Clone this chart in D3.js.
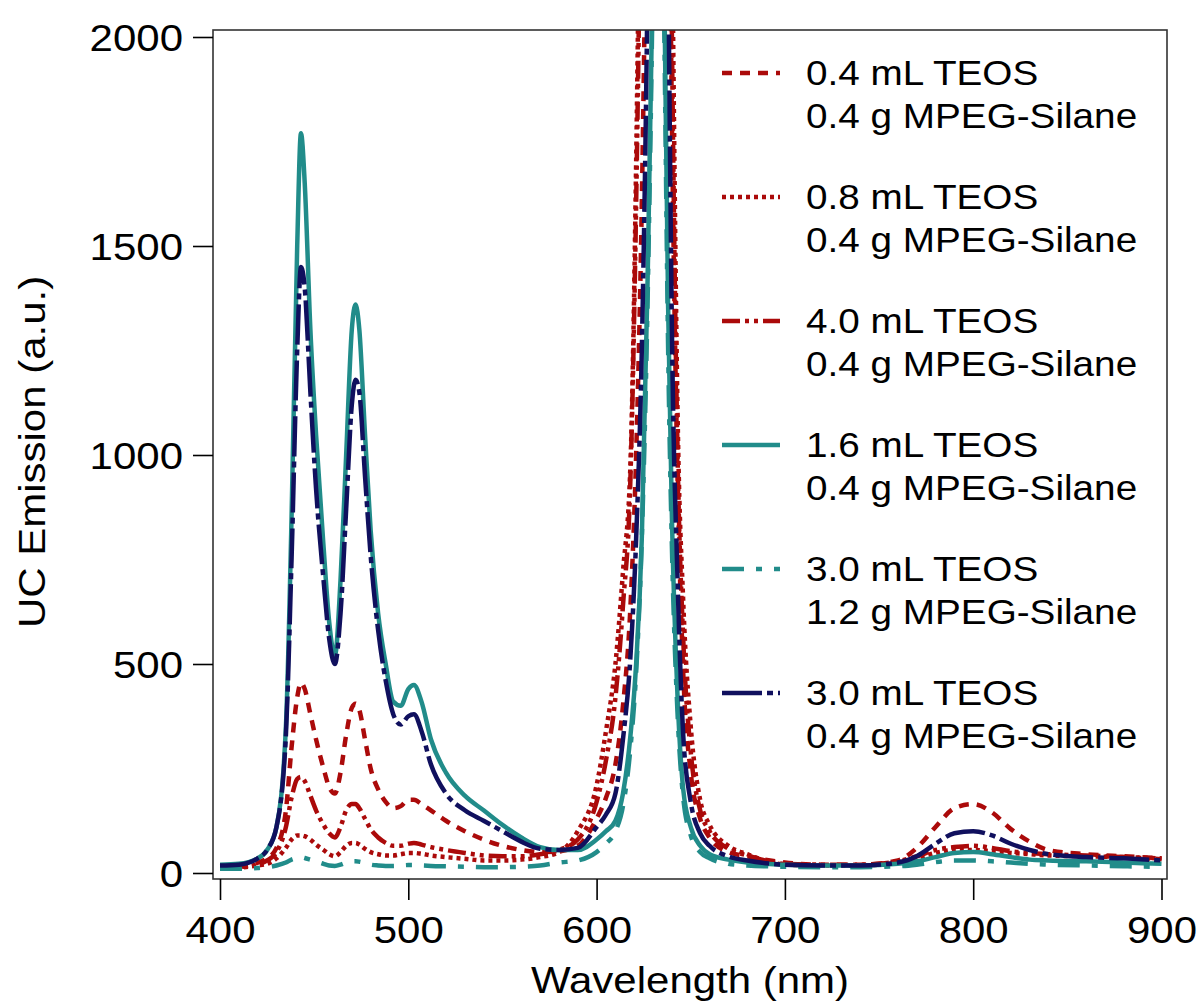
<!DOCTYPE html>
<html>
<head>
<meta charset="utf-8">
<script src="https://cdn.jsdelivr.net/npm/d3@7"></script>
<style>
  body { margin: 0; background: #fff; }
  text { font-family: "Liberation Sans", Arial, Helvetica, sans-serif; fill: #000; }
</style>
</head>
<body>
<div id="chart"></div>
<script>
// setting up constants
const FRAME_WIDTH = 1199;
const FRAME_HEIGHT = 1006;
const BOX = {left: 213, right: 1167, top: 30, bottom: 879};
const STRETCH = 1.12; // the original lettering is a bit wider than Liberation Sans

// wavelength grid shared by all spectra (nm)
const wavelengths = [400,410,420,425,430,435,438,441,443,445,448,451,455,458,461,464,467,470,472,474,
  477,480,484,488,492,496,500,503,507,512,520,530,540,550,560,570,580,590,600,605,
  610,614,618,621,624,627,630,632,634,636,638,640,643,646,650,655,660,670,680,700,
  720,740,760,770,780,790,800,810,820,830,840,860,880,900];

// series values (a.u.)
const teos04 = [15,15,25,35,60,150,300,420,455,440,380,320,250,205,190,240,330,395,405,390,
  320,250,200,170,155,160,175,175,165,150,125,100,80,65,55,50,52,65,130,180,
  260,400,640,1000,1600,2600,4000,4500,4500,3800,2700,1800,950,480,240,130,85,50,40,25,
  20,20,30,60,110,155,165,145,105,75,55,45,40,35];

const teos08 = [12,13,18,22,35,60,80,90,90,88,80,68,55,45,40,50,65,72,72,68,
  58,50,45,42,42,45,48,48,46,42,38,34,30,30,32,38,50,100,210,340,
  500,720,980,1700,2800,4000,5000,5000,5000,4500,3300,2300,1100,650,350,175,115,65,45,20,
  18,18,25,35,48,55,55,52,48,45,42,40,38,35];

const teos40 = [15,15,20,30,50,110,180,225,230,220,185,150,115,95,85,110,150,165,165,155,
  130,105,85,72,65,65,70,72,68,62,55,48,42,40,40,45,55,80,170,270,
  420,640,950,1600,2600,4000,5000,5000,5000,4200,3000,2000,1000,560,290,150,100,58,42,22,
  20,20,28,40,55,62,65,60,52,48,45,42,38,33];

const teos16 = [20,22,35,55,110,350,850,1500,1770,1650,1300,1050,780,600,520,700,1000,1300,1360,1300,
  1050,820,620,500,410,400,440,450,410,320,240,185,150,115,85,62,55,55,80,100,
  125,190,330,500,800,1400,2200,3000,2800,2100,1350,850,420,200,110,65,45,32,25,20,
  18,18,22,28,38,48,50,45,38,32,30,28,25,22];

const teos30b = [10,10,12,14,18,25,32,36,38,36,32,28,22,18,17,20,25,28,28,27,
  24,20,18,17,17,18,19,19,18,17,16,15,14,14,15,18,25,30,50,70,
  100,160,300,480,800,1350,2200,3000,2700,2000,1250,780,380,180,90,50,35,22,18,15,
  14,14,16,20,26,30,30,28,25,22,20,18,16,15];

const teos30 = [18,20,35,55,110,330,750,1250,1450,1400,1150,920,700,560,500,620,870,1120,1180,1150,
  950,760,580,460,380,355,375,380,340,260,190,150,125,100,75,58,55,60,110,140,
  190,320,520,800,1250,2100,3500,4000,4000,3200,2200,1300,700,330,170,95,65,40,30,20,
  18,18,25,40,70,95,100,90,70,55,45,38,35,30];

const seriesNames = [
  ["0.4 mL TEOS", "0.4 g MPEG-Silane"],
  ["0.8 mL TEOS", "0.4 g MPEG-Silane"],
  ["4.0 mL TEOS", "0.4 g MPEG-Silane"],
  ["1.6 mL TEOS", "0.4 g MPEG-Silane"],
  ["3.0 mL TEOS", "1.2 g MPEG-Silane"],
  ["3.0 mL TEOS", "0.4 g MPEG-Silane"]
];
const seriesValues = [teos04, teos08, teos40, teos16, teos30b, teos30];
const seriesColors = ["#ab0a0a", "#ab0a0a", "#ab0a0a", "#218c8a", "#218c8a", "#10105e"];
const seriesDashes = ["10,8", "4,4", "18,5,4,5,4,5", null, "22,12,6,12", "40,5,6,5"];

const xTicks = [400, 500, 600, 700, 800, 900];
const yTicks = [0, 500, 1000, 1500, 2000];

const svg = d3.select("#chart")
  .append("svg")
  .attr("width", FRAME_WIDTH)
  .attr("height", FRAME_HEIGHT);

// scales
const x = d3.scaleLinear().domain([400, 900]).range([220, 1161.5]);
const y = d3.scaleLinear().domain([0, 2000]).range([873, 37]);

svg.append("clipPath")
  .attr("id", "plot-clip")
  .append("rect")
  .attr("x", BOX.left)
  .attr("y", BOX.top)
  .attr("width", BOX.right - BOX.left)
  .attr("height", BOX.bottom - BOX.top);

// draw order: reds first, then teal, navy on top
const drawOrder = [1, 0, 2, 4, 3, 5];
const lineGen = d3.line()
  .x(d => x(d[0]))
  .y(d => y(d[1]))
  .curve(d3.curveMonotoneX);

const lines = svg.append("g").attr("clip-path", "url(#plot-clip)");
drawOrder.forEach(function(i) {
  const pts = wavelengths.map((w, k) => [w, seriesValues[i][k]]);
  lines.append("path")
    .datum(pts)
    .attr("fill", "none")
    .attr("stroke", seriesColors[i])
    .attr("stroke-width", 4.5)
    .attr("stroke-dasharray", seriesDashes[i])
    .attr("stroke-linejoin", "round")
    .attr("d", lineGen);
});

// frame
svg.append("rect")
  .attr("x", BOX.left)
  .attr("y", BOX.top)
  .attr("width", BOX.right - BOX.left)
  .attr("height", BOX.bottom - BOX.top)
  .attr("fill", "none")
  .attr("stroke", "#333")
  .attr("stroke-width", 1.6);

// X axis
const xAxis = svg.append("g")
  .attr("transform", `translate(0, ${BOX.bottom})`)
  .call(d3.axisBottom(x).tickValues(xTicks).tickSize(21).tickPadding(16));
// Y axis
const yAxis = svg.append("g")
  .attr("transform", `translate(${BOX.left}, 0)`)
  .call(d3.axisLeft(y).tickValues(yTicks).tickSize(20).tickPadding(10).tickFormat(d3.format("d")));

[xAxis, yAxis].forEach(function(g) {
  g.select(".domain").remove();
  g.selectAll(".tick line").attr("stroke", "#000").attr("stroke-width", 1.6);
  g.selectAll(".tick text")
    .attr("font-size", 37.5)
    .attr("font-family", "Liberation Sans, Arial, sans-serif")
    .attr("fill", "#000");
});
xAxis.selectAll(".tick text")
  .attr("y", null)
  .attr("dy", null)
  .attr("transform", `translate(0, 64) scale(${STRETCH}, 1)`);
yAxis.selectAll(".tick text")
  .attr("x", null)
  .attr("dy", "0.36em")
  .attr("transform", `translate(-30, 0) scale(${STRETCH}, 1)`);

// axis titles
svg.append("text")
  .attr("transform", `translate(690, 993) scale(${STRETCH}, 1)`)
  .attr("text-anchor", "middle")
  .attr("font-size", 37.5)
  .text("Wavelength (nm)");

svg.append("text")
  .attr("transform", `translate(45, 452) rotate(-90) scale(${STRETCH}, 1)`)
  .attr("text-anchor", "middle")
  .attr("font-size", 37.5)
  .text("UC Emission (a.u.)");

// legend
const legend = svg.append("g");
seriesNames.forEach(function(name, i) {
  const ly = 73 + 124 * i;
  legend.append("line")
    .attr("x1", 722).attr("x2", 780)
    .attr("y1", ly).attr("y2", ly)
    .attr("stroke", seriesColors[i])
    .attr("stroke-width", 4.5)
    .attr("stroke-dasharray", seriesDashes[i]);
  name.forEach(function(line, j) {
    legend.append("text")
      .attr("transform", `translate(806, ${ly + 12 + 43 * j}) scale(1.09, 1)`)
      .attr("font-size", 35.5)
      .text(line);
  });
});
</script>
</body>
</html>
